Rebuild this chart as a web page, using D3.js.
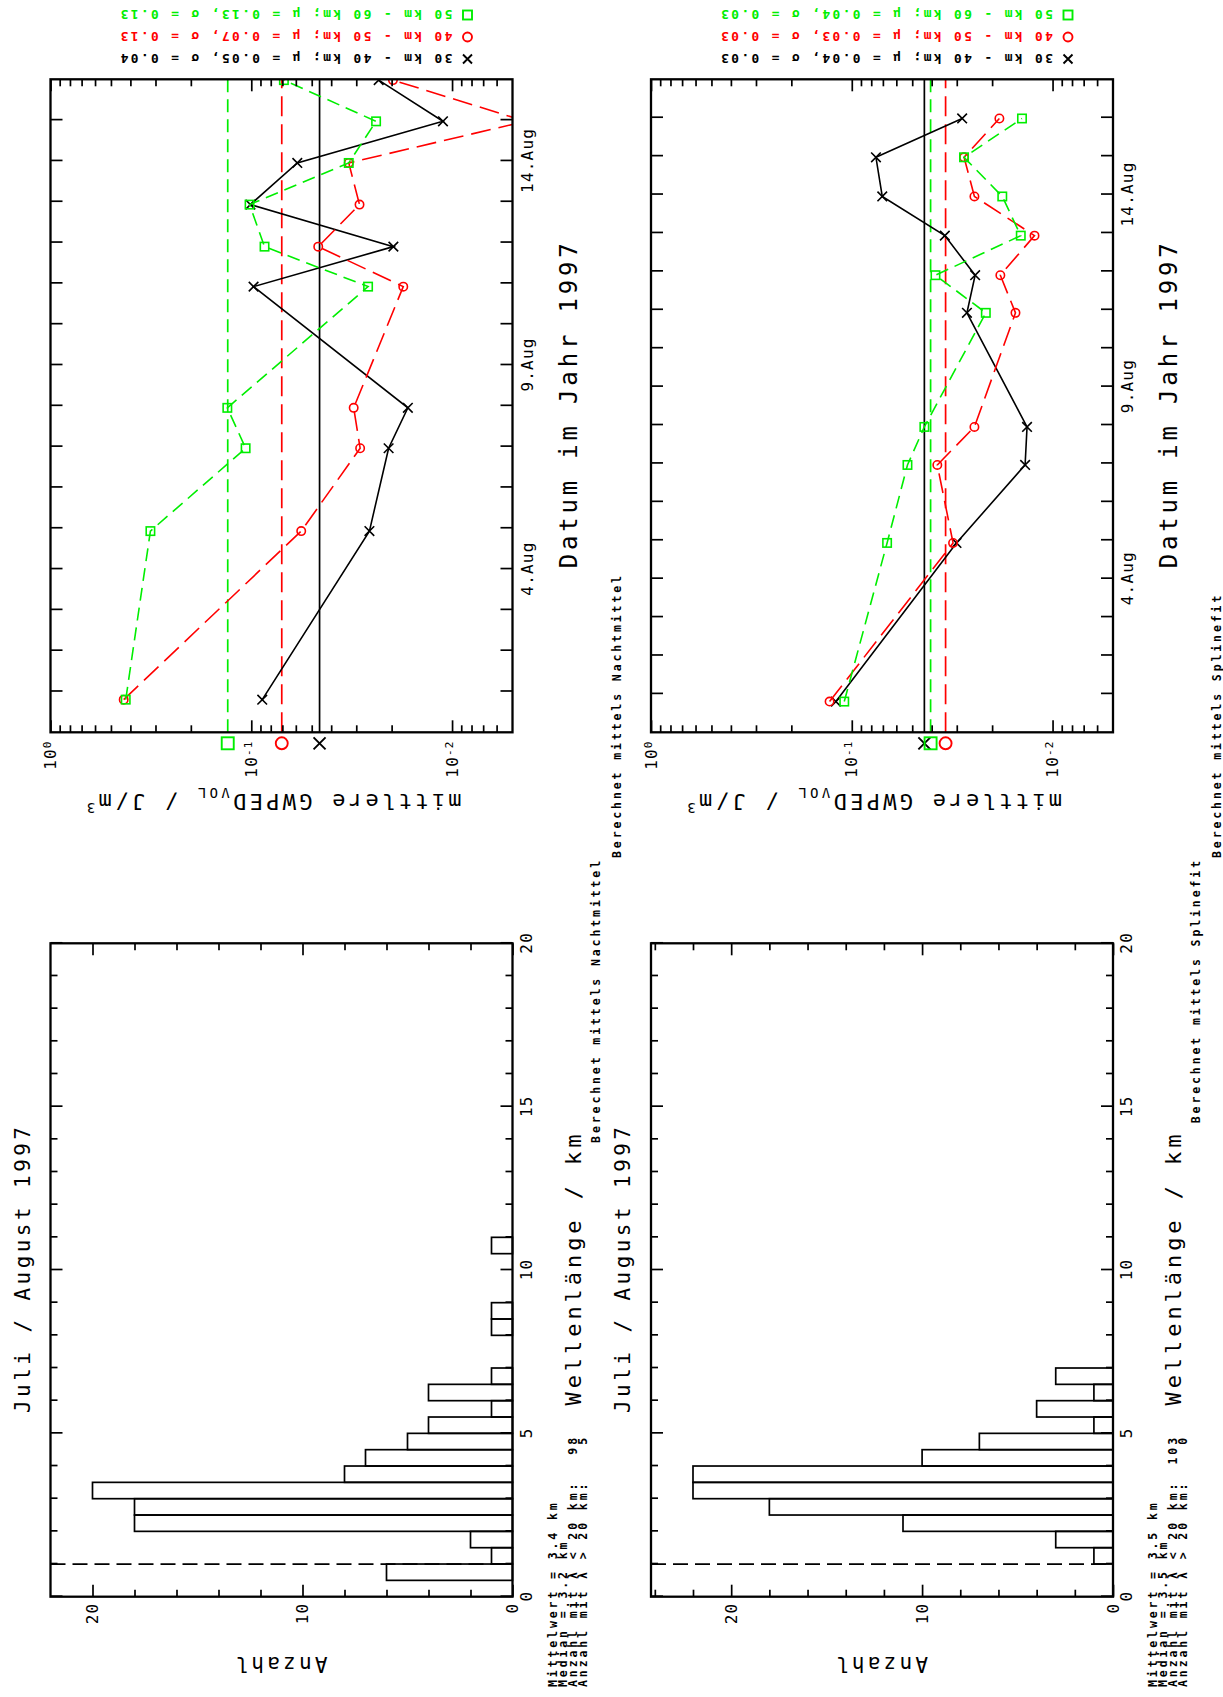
<!DOCTYPE html>
<html><head><meta charset="utf-8">
<script src="https://cdn.jsdelivr.net/npm/d3@7"></script>
<style>body{margin:0;background:#fff}svg{display:block}</style>
</head><body>
<svg id="c" width="1223" height="1697"></svg>
<script>
// ---------------- data ----------------
const dayOffsets = [0.8, 4.93, 6.96, 7.95, 10.92, 11.9, 12.93, 13.95, 14.97, 15.98]; // days after 31 Jul 1997 00:00 UTC
const seriesNames = ["30 km - 40 km", "40 km - 50 km", "50 km - 60 km"];
const seriesColors = ["#000000", "#ff0000", "#00ee00"];
const seriesSymbols = ["x", "o", "s"];

const nightBlack = [0.0882, 0.0258, 0.0207, 0.0166, 0.0974, 0.0196, 0.101, 0.0590, 0.0111, 0.0232];
const nightRed   = [0.432, 0.0564, 0.0287, 0.0309, 0.0175, 0.0464, 0.0289, 0.0327, 0.0043, 0.0197];
const nightGreen = [0.422, 0.318, 0.1067, 0.1316, 0.0262, 0.0859, 0.102, 0.0327, 0.0239, 0.0688];
const nightMeanLevel = [0.0457, 0.0705, 0.131];
const nightMu = ["0.05", "0.07", "0.13"];
const nightSigma = ["0.04", "0.13", "0.13"];

const splineBlack = [0.120, 0.0301, 0.0137, 0.0134, 0.0267, 0.0243, 0.0344, 0.0705, 0.0758, 0.0282];
const splineRed   = [0.129, 0.0313, 0.0375, 0.0245, 0.0153, 0.0182, 0.0123, 0.0245, 0.0276, 0.0184];
const splineGreen = [0.109, 0.0667, 0.0528, 0.0435, 0.0215, 0.0383, 0.0144, 0.0178, 0.0276, 0.0142];
const splineMeanLevel = [0.0435, 0.0341, 0.0405];
const splineMu = ["0.04", "0.03", "0.04"];
const splineSigma = ["0.03", "0.03", "0.03"];

const binStarts    = [0, 0.5, 1, 1.5, 2, 2.5, 3, 3.5, 4, 4.5, 5, 5.5, 6, 6.5, 7, 7.5, 8, 8.5, 9, 9.5, 10, 10.5];
const nightCounts  = [0, 6, 1, 2, 18, 18, 20, 8, 7, 5, 4, 1, 4, 1, 0, 0, 1, 1, 0, 0, 0, 1];
const splineCounts = [0, 0, 1, 3, 11, 18, 22, 22, 10, 7, 1, 4, 1, 3, 0, 0, 0, 0, 0, 0, 0, 0];
const binWidth = 0.5;
const cutoffKm = 1;

const kmMajorTicks = [0, 5, 10, 15, 20];
const countMajorTicks = [0, 10, 20];
const logMajorTicks = [1, 0.1, 0.01];
const dateLabelDays = [4, 9, 14];

const nightStats = ["Mittelwert = 3.4 km", "Median = 3.2 km", "Anzahl mit λ < 20 km:", "Anzahl mit λ > 20 km:"];
const nightStatNumbers = ["98", "5"];
const splineStats = ["Mittelwert = 3.5 km", "Median = 3.5 km", "Anzahl mit λ < 20 km:", "Anzahl mit λ > 20 km:"];
const splineStatNumbers = ["103", "0"];

const panels = [
  {method: "Nachtmittel", end: 16, series: [nightBlack, nightRed, nightGreen], mean: nightMeanLevel,
   mu: nightMu, sigma: nightSigma, counts: nightCounts, stats: nightStats, statNums: nightStatNumbers},
  {method: "Splinefit", end: 17, series: [splineBlack, splineRed, splineGreen], mean: splineMeanLevel,
   mu: splineMu, sigma: splineSigma, counts: splineCounts, stats: splineStats, statNums: splineStatNumbers}
];

// ---------------- layout (landscape page, rotated onto the portrait screen) ----------------
const svg = d3.select("#c");
const page = svg.append("g").attr("transform", "translate(0,1697) rotate(-90)");
const rowTop = [50.5, 651];
const PH = 462;
const histU = [100.3, 753.7];
const tsU = [964.7, 1617.7];
const MONO = "DejaVu Sans Mono, monospace";
const t0 = Date.UTC(1997, 6, 31);
const dayMs = 864e5;

function sym(g, type, cx, cy, s, color, sw) {
  if (type === "x") {
    g.append("path").attr("d", `M${cx-s},${cy-s}L${cx+s},${cy+s}M${cx-s},${cy+s}L${cx+s},${cy-s}`)
      .attr("stroke", color).attr("stroke-width", sw).attr("fill", "none");
  } else if (type === "o") {
    g.append("circle").attr("cx", cx).attr("cy", cy).attr("r", s).attr("stroke", color)
      .attr("stroke-width", sw).attr("fill", "none");
  } else {
    g.append("rect").attr("x", cx - s).attr("y", cy - s).attr("width", 2*s).attr("height", 2*s)
      .attr("stroke", color).attr("stroke-width", sw).attr("fill", "none");
  }
}
function styleAxis(g, size) {
  g.select(".domain").remove();
  g.selectAll(".tick line").attr("stroke", "#000").attr("stroke-width", 1.7);
  g.selectAll("text").attr("font-family", MONO).attr("font-size", size).attr("fill", "#000")
    .attr("letter-spacing", 1.2);
}
const dashes = ["none", "20,8", "13,7"];

panels.forEach((p, r) => {
  const v0 = rowTop[r], v1 = v0 + PH;
  const root = page.append("g");

  // ===== histogram =====
  const maxCount = d3.max(p.counts) * 1.1;
  const hx = d3.scaleLinear().domain([0, 20]).range(histU);
  const hy = d3.scaleLinear().domain([0, maxCount]).range([v1, v0]);
  const bars = binStarts.map((b, i) => ({b, c: p.counts[i]})).filter(d => d.c > 0);
  root.append("g").selectAll("rect").data(bars).join("rect")
    .attr("x", d => hx(d.b)).attr("width", d => hx(d.b + binWidth) - hx(d.b))
    .attr("y", d => hy(d.c)).attr("height", d => hy(0) - hy(d.c))
    .attr("fill", "none").attr("stroke", "#000").attr("stroke-width", 1.7);
  root.append("line").attr("x1", hx(cutoffKm)).attr("x2", hx(cutoffKm)).attr("y1", v0).attr("y2", v1)
    .attr("stroke", "#000").attr("stroke-width", 1.7).attr("stroke-dasharray", "15,7");

  const kmMinor = d3.range(0, 21, 1).filter(k => !kmMajorTicks.includes(k));
  const cMinor = d3.range(0, maxCount, 2).filter(k => !countMajorTicks.includes(k));
  root.append("g").attr("transform", `translate(0,${v1})`)
    .call(d3.axisBottom(hx).tickValues(kmMajorTicks).tickSize(-12).tickPadding(8).tickFormat(d3.format("d")))
    .call(g => styleAxis(g, 16));
  root.append("g").attr("transform", `translate(0,${v1})`)
    .call(d3.axisBottom(hx).tickValues(kmMinor).tickSize(-7).tickFormat("")).call(g => styleAxis(g, 16));
  root.append("g").attr("transform", `translate(0,${v0})`)
    .call(d3.axisTop(hx).tickValues(kmMajorTicks).tickSize(-12).tickFormat("")).call(g => styleAxis(g, 16));
  root.append("g").attr("transform", `translate(0,${v0})`)
    .call(d3.axisTop(hx).tickValues(kmMinor).tickSize(-7).tickFormat("")).call(g => styleAxis(g, 16));
  root.append("g").attr("transform", `translate(${histU[0]},0)`)
    .call(d3.axisLeft(hy).tickValues(countMajorTicks).tickSize(-12).tickPadding(6).tickFormat(d3.format("d")))
    .call(g => styleAxis(g, 16));
  root.append("g").attr("transform", `translate(${histU[0]},0)`)
    .call(d3.axisLeft(hy).tickValues(cMinor).tickSize(-7).tickFormat("")).call(g => styleAxis(g, 16));
  root.append("g").attr("transform", `translate(${histU[1]},0)`)
    .call(d3.axisRight(hy).tickValues(countMajorTicks).tickSize(-12).tickFormat("")).call(g => styleAxis(g, 16));
  root.append("g").attr("transform", `translate(${histU[1]},0)`)
    .call(d3.axisRight(hy).tickValues(cMinor).tickSize(-7).tickFormat("")).call(g => styleAxis(g, 16));
  root.append("rect").attr("x", histU[0]).attr("y", v0).attr("width", histU[1] - histU[0]).attr("height", PH)
    .attr("fill", "none").attr("stroke", "#000").attr("stroke-width", 2.3);

  const hc = (histU[0] + histU[1]) / 2;
  root.append("text").attr("x", hc).attr("y", v0 - 21).attr("text-anchor", "middle")
    .attr("font-family", MONO).attr("font-size", 21).attr("textLength", 286).attr("lengthAdjust", "spacing")
    .text("Juli / August 1997");
  root.append("text").attr("x", hc).attr("y", v1 + 68).attr("text-anchor", "middle")
    .attr("font-family", MONO).attr("font-size", 22).attr("textLength", 271).attr("lengthAdjust", "spacing")
    .text("Wellenlänge / km");
  root.append("text").attr("transform", `translate(40,${v0 + 231}) rotate(-90)`).attr("text-anchor", "middle")
    .attr("font-family", MONO).attr("font-size", 21).attr("textLength", 92).attr("lengthAdjust", "spacing")
    .text("Anzahl");

  // stats block
  const sg = root.append("g").attr("font-family", MONO).attr("font-weight", "bold").attr("font-size", 11.5)
    .attr("letter-spacing", 2.9);
  p.stats.forEach((s, i) => sg.append("text").attr("x", 10).attr("y", v1 + 44 + i * 10).text(s));
  p.statNums.forEach((s, i) => sg.append("text").attr("x", 262).attr("y", v1 + 64 + i * 10)
    .attr("text-anchor", "end").text(s));
  root.append("text").attr("x", 839).attr("y", v1 + 87).attr("text-anchor", "end")
    .attr("font-family", MONO).attr("font-weight", "bold").attr("font-size", 11.5).attr("letter-spacing", 2.9)
    .text("Berechnet mittels " + p.method);

  // ===== time series =====
  const tx = d3.scaleUtc().domain([new Date(t0), new Date(t0 + p.end * dayMs)]).range(tsU);
  const ty = d3.scaleLog().domain([1, 0.005]).range([v0, v1]);
  const dates = dayOffsets.map(d => new Date(t0 + d * dayMs));

  const clipId = "clip" + r;
  root.append("clipPath").attr("id", clipId).append("rect")
    .attr("x", tsU[0]).attr("y", v0).attr("width", tsU[1] - tsU[0]).attr("height", PH);

  const dg = root.append("g").attr("clip-path", `url(#${clipId})`);
  p.mean.forEach((m, k) => {
    dg.append("line").attr("x1", tsU[0]).attr("x2", tsU[1]).attr("y1", ty(m)).attr("y2", ty(m))
      .attr("stroke", seriesColors[k]).attr("stroke-width", 1.7).attr("stroke-dasharray", dashes[k]);
  });
  const line = d3.line().x(d => tx(d[0])).y(d => ty(d[1]));
  p.series.forEach((vals, k) => {
    const pts = dates.map((dt, i) => [dt, vals[i]]);
    dg.append("path").attr("d", line(pts)).attr("fill", "none").attr("stroke", seriesColors[k])
      .attr("stroke-width", 1.6).attr("stroke-dasharray", dashes[k]);
    pts.forEach(pt => sym(dg, seriesSymbols[k], tx(pt[0]), ty(pt[1]), seriesSymbols[k] === "x" ? 4.8 : 4.2, seriesColors[k], 1.6));
  });
  p.mean.forEach((m, k) => sym(root, seriesSymbols[k], tsU[0] - 11, ty(m), 6, seriesColors[k], 1.9));

  const dayTicks = d3.utcDay.range(new Date(t0 + dayMs), new Date(t0 + p.end * dayMs));
  const fmtDate = d => dateLabelDays.includes(d.getUTCDate()) && d.getUTCMonth() === 7 ? d.getUTCDate() + ".Aug" : "";
  root.append("g").attr("transform", `translate(0,${v1})`)
    .call(d3.axisBottom(tx).tickValues(dayTicks).tickSize(-12).tickPadding(9).tickFormat(fmtDate))
    .call(g => styleAxis(g, 16));
  root.append("g").attr("transform", `translate(0,${v0})`)
    .call(d3.axisTop(tx).tickValues(dayTicks).tickSize(-12).tickFormat("")).call(g => styleAxis(g, 16));
  const logMinor = [];
  [-3, -2, -1].forEach(e => d3.range(2, 10).forEach(m => { const v = m * Math.pow(10, e); if (v > 0.005 && v < 1) logMinor.push(v); }));
  root.append("g").attr("transform", `translate(${tsU[0]},0)`)
    .call(d3.axisLeft(ty).tickValues(logMajorTicks).tickSize(-12).tickPadding(8).tickFormat(() => ""))
    .call(g => styleAxis(g, 16))
    .call(g => g.selectAll(".tick text").each(function(d) {
      const t = d3.select(this);
      t.append("tspan").text("10");
      t.append("tspan").attr("dy", "-0.45em").attr("font-size", 11).text(String(Math.round(Math.log10(d))));
    }));
  root.append("g").attr("transform", `translate(${tsU[0]},0)`)
    .call(d3.axisLeft(ty).tickValues(logMinor).tickSize(-7).tickFormat("")).call(g => styleAxis(g, 16));
  root.append("g").attr("transform", `translate(${tsU[1]},0)`)
    .call(d3.axisRight(ty).tickValues(logMajorTicks).tickSize(-12).tickFormat("")).call(g => styleAxis(g, 16));
  root.append("g").attr("transform", `translate(${tsU[1]},0)`)
    .call(d3.axisRight(ty).tickValues(logMinor).tickSize(-7).tickFormat("")).call(g => styleAxis(g, 16));
  root.append("rect").attr("x", tsU[0]).attr("y", v0).attr("width", tsU[1] - tsU[0]).attr("height", PH)
    .attr("fill", "none").attr("stroke", "#000").attr("stroke-width", 2.3);

  const tc = (tsU[0] + tsU[1]) / 2;
  root.append("text").attr("x", tc).attr("y", v1 + 64).attr("text-anchor", "middle")
    .attr("font-family", MONO).attr("font-size", 24).attr("textLength", 325).attr("lengthAdjust", "spacing")
    .text("Datum im Jahr 1997");
  const yl = root.append("text").attr("transform", `translate(903,${v0 + 222}) rotate(-90)`)
    .attr("text-anchor", "middle").attr("font-family", MONO).attr("font-size", 22).attr("letter-spacing", 3.3);
  yl.append("tspan").text("mittlere GWPED");
  yl.append("tspan").attr("font-size", 14).attr("dy", 6).text("VOL");
  yl.append("tspan").attr("dy", -6).text(" / J/m");
  yl.append("tspan").attr("font-size", 14).attr("dy", -9).text("3");
  root.append("text").attr("x", 839).attr("y", v1 + 108)
    .attr("font-family", MONO).attr("font-weight", "bold").attr("font-size", 11.5).attr("letter-spacing", 2.9)
    .text("Berechnet mittels " + p.method);

  // legend (vertical in landscape)
  const legU = [1643, 1665, 1687];
  seriesNames.forEach((nm, k) => {
    sym(root, seriesSymbols[k], legU[k] - 5, v0 + 417, 4.5, seriesColors[k], 1.9);
    root.append("text").attr("transform", `translate(${legU[k]},${v0 + 402}) rotate(-90)`)
      .attr("font-family", MONO).attr("font-weight", "bold").attr("font-size", 13).attr("letter-spacing", 2.3)
      .attr("fill", seriesColors[k])
      .text(`${nm}; μ = ${p.mu[k]}, σ = ${p.sigma[k]}`);
  });
});
</script>
</body></html>
